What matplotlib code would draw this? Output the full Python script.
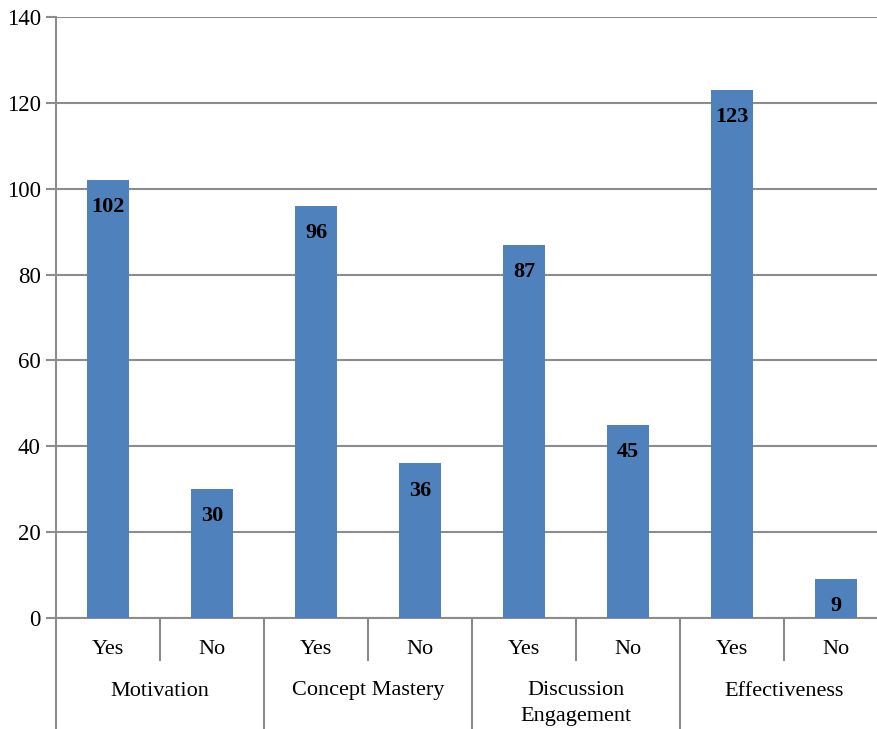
import matplotlib.pyplot as plt
import matplotlib.transforms as mtransforms

plt.rcParams['font.family'] = ['Liberation Serif', 'DejaVu Serif']

groups = ['Motivation', 'Concept Mastery', 'Discussion\nEngagement', 'Effectiveness']
answers = ['Yes', 'No']
counts = [102, 30, 96, 36, 87, 45, 123, 9]

W, H = 877, 729
fig = plt.figure(figsize=(W / 100, H / 100), dpi=100)
# plot area runs a little past the right edge of the canvas
ax = fig.add_axes([56 / W, (H - 618) / H, (888 - 56) / W, 601 / H])

grid_col = '#8c8c8c'
fs = 16
x = list(range(len(counts)))
ax.bar(x, counts, width=0.41, color='#4f81bd', zorder=3)
for xi, v in zip(x, counts):
    ax.text(xi, v - 6.3, str(v), ha='center', va='center', fontsize=fs,
            fontweight='bold', zorder=4)

ax.set_xlim(-0.5, len(counts) - 0.5)
ax.set_ylim(0, 140)
ax.set_yticks(range(0, 141, 20))
ax.yaxis.grid(True, color=grid_col, linewidth=1.5, zorder=0)
ax.tick_params(axis='y', length=7, width=1.5, color=grid_col, labelsize=16.5, pad=4)
ax.tick_params(axis='x', length=0, labelbottom=False)
for side in ['top', 'right']:
    ax.spines[side].set_visible(False)
ax.spines['left'].set_color(grid_col)
ax.spines['left'].set_linewidth(1.5)
ax.spines['bottom'].set_color(grid_col)
ax.spines['bottom'].set_linewidth(1.5)

# two-level category axis
trans = mtransforms.blended_transform_factory(ax.transData, ax.transAxes)
ph = 601.0
for k in range(len(counts) + 1):
    xs = k - 0.5
    low = -111 / ph if k % 2 == 0 else -42 / ph
    ax.plot([xs, xs], [0, low], color=grid_col, lw=1.5, transform=trans,
            clip_on=False)
for i in x:
    ax.text(i, -31 / ph, answers[i % 2], ha='center', va='center',
            fontsize=fs, transform=trans)
for g, name in enumerate(groups):
    yc = -85.5 / ph if '\n' in name else -73 / ph
    ax.text(2 * g + 0.5, yc, name, ha='center', va='center', fontsize=fs,
            linespacing=1.5, transform=trans)

fig.savefig('out.png', dpi=100)
